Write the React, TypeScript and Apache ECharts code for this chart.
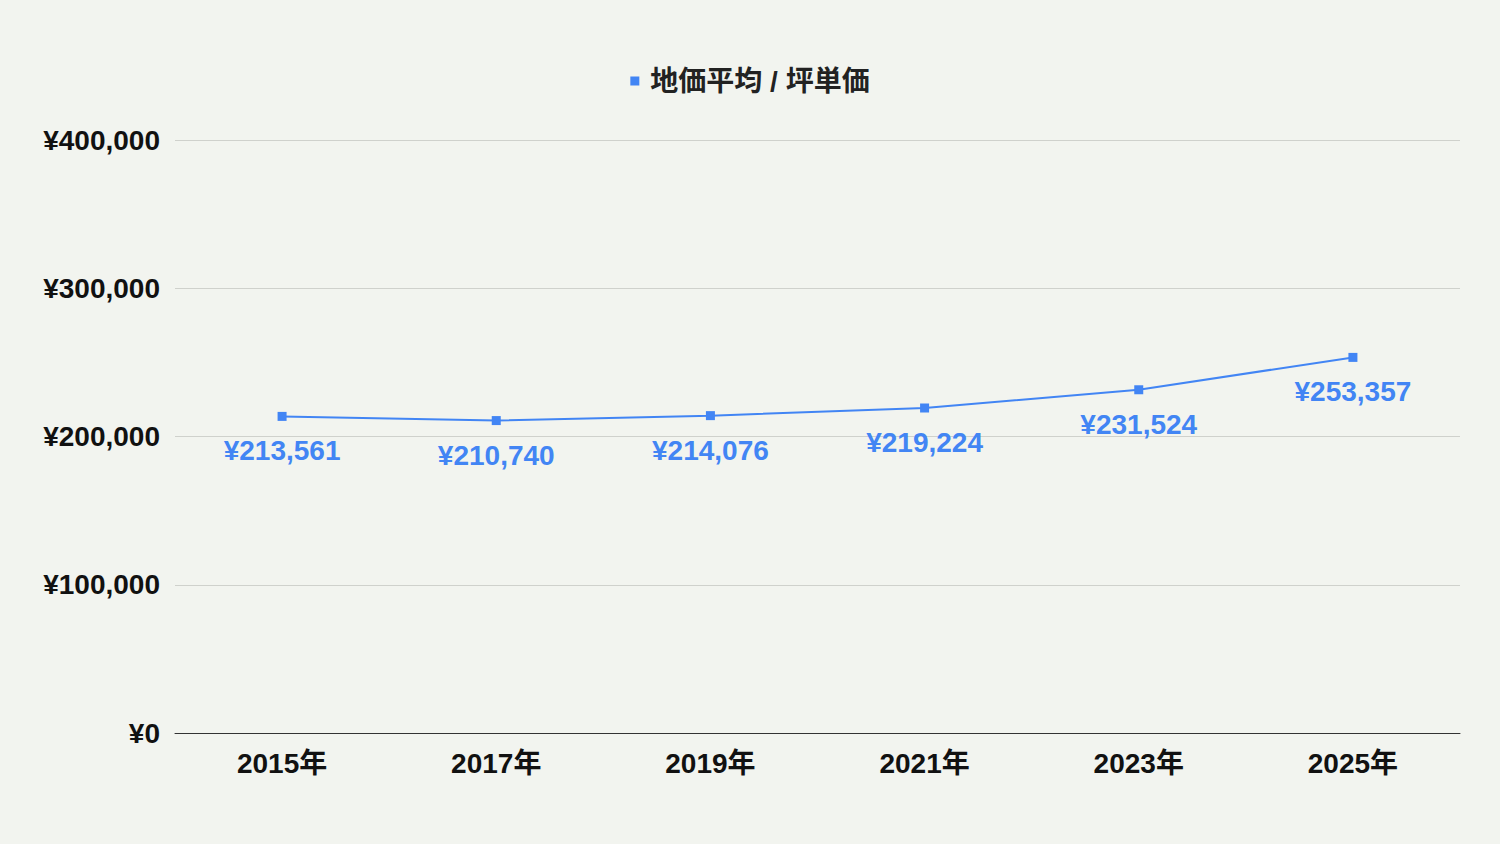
import * as echarts from "echarts";
import { useEffect, useRef } from "react";

const years = ["2015年", "2017年", "2019年", "2021年", "2023年", "2025年"];
const pricePerTsubo = [213561, 210740, 214076, 219224, 231524, 253357];
const seriesName = "地価平均 / 坪単価";

const FONT = "'Liberation Sans', Arial, 'Noto Sans CJK JP', sans-serif";
const BLUE = "#4285f4";

function fmtYen(v: number) {
  return "¥" + v.toLocaleString("en-US");
}

export default function App() {
  const chartRef = useRef<HTMLDivElement>(null);

  useEffect(() => {
    document.body.style.margin = "0";
    if (!chartRef.current) return;
    const chart = echarts.init(chartRef.current, undefined, { renderer: "svg" });
    chart.setOption({
      animation: false,
      backgroundColor: "#f2f4ef",
      textStyle: { fontFamily: FONT },
      legend: {
        top: 62,
        left: "center",
        icon: "rect",
        itemWidth: 9,
        itemHeight: 9,
        itemGap: 10,
        textStyle: {
          fontSize: 28,
          fontWeight: "bold",
          color: "#222",
          fontFamily: FONT,
          padding: [0, 0, 0, 6],
        },
        data: [seriesName],
      },
      grid: {
        left: 175,
        right: 40,
        top: 140,
        bottom: 111,
        containLabel: false,
      },
      xAxis: {
        type: "category",
        data: years,
        boundaryGap: true,
        axisLine: { lineStyle: { color: "#333", width: 1 } },
        axisTick: { show: false },
        axisLabel: {
          margin: 16,
          fontSize: 28,
          fontWeight: "bold",
          color: "#111",
          fontFamily: FONT,
        },
      },
      yAxis: {
        type: "value",
        min: 0,
        max: 400000,
        interval: 100000,
        axisLine: { show: false },
        axisTick: { show: false },
        axisLabel: {
          margin: 15,
          fontSize: 28,
          fontWeight: "bold",
          color: "#111",
          fontFamily: FONT,
          formatter: (v: number) => fmtYen(v),
        },
        splitLine: { lineStyle: { color: "#cfd1cc", width: 1 } },
      },
      series: [
        {
          name: seriesName,
          type: "line",
          data: pricePerTsubo,
          symbol: "rect",
          symbolSize: 9,
          itemStyle: { color: BLUE },
          lineStyle: { color: BLUE, width: 2 },
          label: {
            show: true,
            position: "bottom",
            distance: 16,
            fontSize: 28,
            fontWeight: "bold",
            color: BLUE,
            fontFamily: FONT,
            formatter: (p: { value: number }) => fmtYen(p.value),
          },
        },
      ],
    });
    return () => chart.dispose();
  }, []);

  return <div ref={chartRef} style={{ width: 1500, height: 844 }} />;
}
